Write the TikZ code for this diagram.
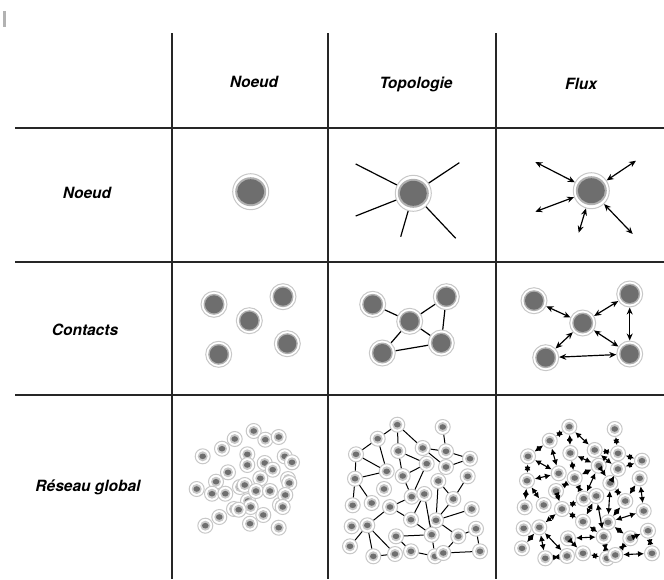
\documentclass[tikz,border=0pt]{standalone}
\usepackage{fontspec}
\setsansfont{TeX Gyre Heros}
\usepackage{tikz}
\usetikzlibrary{arrows.meta}

\definecolor{ringgray}{HTML}{C8C8C8}
\definecolor{halogray}{HTML}{B0B0B0}
\definecolor{coregray}{HTML}{6E6E6E}

\tikzset{
  bignode/.style={circle, draw=ringgray, line width=1pt, fill=white,
    minimum size=36pt, inner sep=0pt,
    path picture={\fill[halogray] (path picture bounding box.center) ellipse (15.5pt and 14.5pt);
      \fill[coregray] (path picture bounding box.center) ellipse (13.5pt and 12.5pt);}},
  midnode/.style={circle, draw=ringgray, line width=1pt, fill=white,
    minimum size=26pt, inner sep=0pt,
    path picture={\fill[halogray] (path picture bounding box.center) circle (10.5pt);
      \fill[coregray] (path picture bounding box.center) circle (9pt);}},
  smallnode/.style={circle, draw=ringgray, line width=1pt, fill=white,
    minimum size=15pt, inner sep=0pt,
    path picture={\fill[halogray!70] (path picture bounding box.center) circle (5pt);
      \fill[coregray] (path picture bounding box.center) ellipse (3.3pt and 2.8pt);}},
  ghostnode/.style={smallnode},
  link/.style={line width=1.2pt, black},
  flow/.style={line width=1.2pt, black, <->, >={Stealth[length=7pt,width=6pt]}},
  netflow/.style={line width=1.1pt, black, <->, >={Latex[length=6pt,width=6pt]}},
  gridline/.style={line width=1.2pt, black!85},
  title/.style={font=\sffamily\bfseries\itshape\fontsize{15.5}{18}\selectfont}
}

\begin{document}
\begin{tikzpicture}[x=1pt,y=-1pt]
  \useasboundingbox (0,0) rectangle (664,579);
  \fill[gray!60] (3,11) rectangle (5.5,27);

  % table
  \draw[gridline] (172,33) -- (172,579);
  \draw[gridline] (328,33) -- (328,579);
  \draw[gridline] (496,33) -- (496,579);
  \draw[gridline] (15,128) -- (664,128);
  \draw[gridline] (15,262) -- (664,262);
  \draw[gridline] (15,395) -- (664,395);

  % headers
  \node[title] (colnoeud) at (254,82) {Noeud};
  \node[title] (coltopo) at (416,84) {Topologie};
  \node[title] (colflux) at (581,84) {Flux};
  \node[title] (rownoeud) at (87,193) {Noeud};
  \node[title] (rowcontacts) at (85,330) {Contacts};
  \node[title] (rowglobal) at (88,487) {Réseau global};

  % noeud / noeud
  \node[bignode] (solo) at (250.7,191.7) {};

  % noeud / topologie
  \node[bignode] (hub) at (413.3,193.3) {};
  \coordinate (h1) at (355.7,164);
  \coordinate (h2) at (459.3,162.7);
  \coordinate (h3) at (355.7,216);
  \coordinate (h4) at (400.7,236.7);
  \coordinate (h5) at (455.7,238.3);
  \foreach \i in {1,...,5}
    \draw[link] (hub) -- (h\i);

  % noeud / flux
  \node[bignode] (src) at (591.3,190.7) {};
  \coordinate (s1) at (535.3,162);
  \coordinate (s2) at (636,160.7);
  \coordinate (s3) at (535.3,211.7);
  \coordinate (s4) at (578.7,232.7);
  \coordinate (s5) at (632.7,234);
  \foreach \i in {1,...,5}
    \draw[flow] (src) -- (s\i);

  % contacts / noeud
  \node[midnode] (ca) at (214,304.3) {};
  \node[midnode] (cb) at (283,296.7) {};
  \node[midnode] (cc) at (249.3,320.7) {};
  \node[midnode] (cd) at (218.7,354.3) {};
  \node[midnode] (ce) at (287.3,343.7) {};

  % contacts / topologie
  \node[midnode] (ta) at (372.7,304.3) {};
  \node[midnode] (tb) at (446.3,296.7) {};
  \node[midnode] (tc) at (409.7,321.3) {};
  \node[midnode] (td) at (382.3,353) {};
  \node[midnode] (te) at (441.3,343) {};
  \foreach \a/\b in {ta/tc, tc/tb, tb/te, tc/te, tc/td, td/te}
    \draw[link] (\a) -- (\b);

  % contacts / flux
  \node[midnode] (fa) at (534,300.7) {};
  \node[midnode] (fb) at (629.7,294) {};
  \node[midnode] (fc) at (582.7,323) {};
  \node[midnode] (fd) at (545.7,357.7) {};
  \node[midnode] (fe) at (629.7,354) {};
  \foreach \a/\b in {fa/fc, fc/fb, fb/fe, fc/fe, fc/fd, fd/fe}
    \draw[flow] (\a) -- (\b);

  % global / noeud
  \begin{scope}[shift={(172,397)}]
    \foreach \x/\y in {68/90, 116/82, 76/104, 62/112, 108/108}
      \node[ghostnode] at (\x,\y) {};
    \foreach \n/\x/\y in {1/81.7/34, 2/93.3/42.7, 3/106.7/40, 4/62.7/42, 5/50/51.7,
        6/30.7/59.3, 7/75.3/57.3, 8/112.7/59.3, 9/120/65.3, 10/75.3/68,
        11/92.7/66, 12/100.7/72.7, 13/56/75.3, 14/44/84.7, 15/88.3/81.3,
        16/117.3/86, 17/24.7/92, 18/40/96.7, 19/53.3/96.7, 20/72.7/88,
        21/84/94, 22/98/94, 23/113.3/98, 24/78.7/110, 25/66.7/112.7,
        26/110.7/110, 27/47.3/120, 28/91.3/118, 29/33.3/128.7, 30/78/126.7,
        31/106.7/130.7}
      \node[smallnode] (g\n) at (\x,\y) {};
  \end{scope}

  % global / topologie
  \begin{scope}[shift={(328,397)}]
    \foreach \n/\x/\y in {1/69.3/27.7, 2/114.7/30, 3/49.7/41.7, 4/28/57.3, 5/70.3/54,
        6/94.7/51, 7/118/54.3, 8/142/61.7, 9/118/70, 10/98.7/66.7,
        11/58.7/74.3, 12/27/81.7, 13/74.7/79, 14/110.3/84, 15/139.7/79.3,
        16/56/92, 17/83.7/99.7, 18/96.3/97, 19/125.3/102, 20/24.7/108.3,
        21/43.7/106, 22/62/110, 23/143.7/112, 24/83/122.7, 25/108/123.3,
        26/23.7/129.3, 27/39.3/128.3, 28/148/131.7, 29/68/139.3, 30/103.7/137.7,
        31/130.3/139.3, 32/22/149.3, 33/45.3/159.3, 34/67/157, 35/83/154.3,
        36/107/159.3, 37/115.3/156, 38/152/154.3}
      \node[smallnode] (t\n) at (\x,\y) {};
  \end{scope}
  \foreach \a/\b in {1/3, 1/5, 1/6, 2/7, 3/4, 3/11, 4/11, 4/12, 12/11, 5/10, 5/13,
      6/7, 6/9, 7/8, 9/8, 10/13, 10/17, 13/17, 12/20, 12/21, 22/27, 22/17,
      18/24, 18/30, 14/25, 14/19, 15/19, 25/23, 25/19, 22/24, 24/30, 29/30,
      25/31, 31/28, 28/38, 31/37, 37/38, 30/36, 29/35, 35/36, 27/33, 27/34,
      33/34, 27/32}
    \draw[link, line width=1pt] (t\a) -- (t\b);

  % global / flux
  \begin{scope}[shift={(500,399)}]
    \foreach \n/\x/\y in {1/69.3/27.7, 2/114.7/30, 3/49.7/41.7, 4/28/57.3, 5/70.3/54,
        6/94.7/51, 7/118/54.3, 8/142/61.7, 9/118/70, 10/98.7/66.7,
        11/58.7/74.3, 12/27/81.7, 13/74.7/79, 14/110.3/84, 15/139.7/79.3,
        16/56/92, 17/83.7/99.7, 18/96.3/97, 19/125.3/102, 20/24.7/108.3,
        21/43.7/106, 22/62/110, 23/143.7/112, 24/83/122.7, 25/108/123.3,
        26/23.7/129.3, 27/39.3/128.3, 28/148/131.7, 29/68/139.3, 30/103.7/137.7,
        31/130.3/139.3, 32/22/149.3, 33/45.3/159.3, 34/67/157, 35/83/154.3,
        36/107/159.3, 37/115.3/156, 38/152/154.3}
      \node[smallnode] (f\n) at (\x,\y) {};
  \end{scope}
  \foreach \a/\b in {1/3, 1/5, 1/6, 2/7, 3/4, 3/11, 4/11, 4/12, 12/11, 5/10, 5/13,
      6/7, 6/9, 7/8, 9/8, 10/13, 10/17, 13/17, 12/20, 12/21, 22/27, 22/17,
      18/24, 18/30, 14/25, 14/19, 15/19, 25/23, 25/19, 22/24, 24/30, 29/30,
      25/31, 31/28, 28/38, 31/37, 37/38, 30/36, 29/35, 35/36, 27/33, 27/34,
      33/34, 27/32, 13/16, 16/22, 9/14, 15/23, 10/14}
    \draw[netflow] (f\a) -- (f\b);
\end{tikzpicture}
\end{document}
